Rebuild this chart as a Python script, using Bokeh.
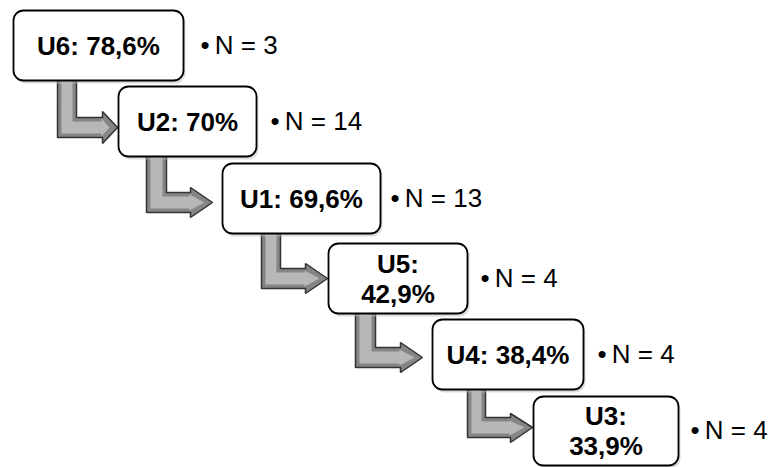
from bokeh.plotting import figure
from bokeh.models import Range1d, BoxAnnotation, ColumnDataSource
from bokeh.core.properties import value
from bokeh.embed import file_html
from bokeh.resources import INLINE

# ---- data ----
units = ["U6", "U2", "U1", "U5", "U4", "U3"]
percent_labels = ["78,6%", "70%", "69,6%", "42,9%", "38,4%", "33,9%"]
wrap = [False, False, False, True, False, True]
n_values = [3, 14, 13, 4, 4, 4]

# ---- layout (pixel units, y downward) ----
boxes = [(13, 183, 10, 80), (118, 256, 86, 156), (222, 380, 163, 233),
         (328, 467, 243, 313), (432, 583, 319, 389), (533, 678, 396, 465)]
n_x = [200, 270, 390, 480, 597, 690]
arrows = [
    dict(a=57, b=76, t=80, bt=117, bb=137, hx=102, ht=111, hb=143, tx=117),
    dict(a=146, b=166, t=156, bt=192, bb=212, hx=190, ht=187, hb=217, tx=212),
    dict(a=261, b=280, t=233, bt=268, bb=288, hx=305, ht=263, hb=293, tx=327),
    dict(a=355, b=375, t=313, bt=347, bb=367, hx=400, ht=342, hb=372, tx=422),
    dict(a=467, b=485, t=389, bt=417, bb=437, hx=510, ht=413, hb=442, tx=532),
]

W, H = 769, 467
p = figure(width=W, height=H, output_backend="svg", toolbar_location=None,
           x_range=Range1d(0, W), y_range=Range1d(H, 0), min_border=0)
p.axis.visible = False
p.grid.visible = False
p.outline_line_color = None
p.background_fill_color = "white"
p.border_fill_color = "white"

# arrows
xs_out, ys_out, xs_in, ys_in, xs_h, ys_h = [], [], [], [], [], []
for ar in arrows:
    mid = (ar["bt"] + ar["bb"]) / 2
    xs_out.append([ar["a"], ar["b"], ar["b"], ar["hx"], ar["hx"], ar["tx"], ar["hx"], ar["hx"], ar["a"]])
    ys_out.append([ar["t"], ar["t"], ar["bt"], ar["bt"], ar["ht"], mid, ar["hb"], ar["bb"], ar["bb"]])
    d = 4
    xs_in.append([ar["a"] + d, ar["b"] - d, ar["b"] - d, ar["hx"], ar["hx"], ar["a"] + d])
    ys_in.append([ar["t"], ar["t"], ar["bt"] + d, ar["bt"] + d, ar["bb"] - d, ar["bb"] - d])
    xs_h.append([ar["hx"] - 1, ar["tx"] - 8, ar["hx"] - 1])
    ys_h.append([ar["ht"] + 7, mid, ar["hb"] - 7])

p.patches(xs_out, ys_out, fill_color="#858585", line_color="#333333", line_width=1.5)
p.patches(xs_in, ys_in, fill_color="#bdbdbd", line_color=None, fill_alpha=0.9)
p.patches(xs_h, ys_h, fill_color="#bdbdbd", line_color=None, fill_alpha=0.9)

# boxes
for (l, r, t, b) in boxes:
    shadow = BoxAnnotation(left=l + 2, right=r + 2, top=t + 3, bottom=b + 3,
                           fill_color="#bbbbbb", fill_alpha=0.5, line_color=None,
                           border_radius=10)
    p.add_layout(shadow)
    box = BoxAnnotation(left=l, right=r, top=t, bottom=b, fill_color="white",
                        fill_alpha=1.0, line_color="black", line_width=1.8,
                        line_alpha=1.0, border_radius=10)
    p.add_layout(box)

labels = [f"{u}:\n{pc}" if w else f"{u}: {pc}" for u, pc, w in zip(units, percent_labels, wrap)]
cx = [(l + r) / 2 for (l, r, t, b) in boxes]
cy = [(t + b) / 2 for (l, r, t, b) in boxes]
src = ColumnDataSource(dict(x=cx, y=cy, text=labels))
p.text(x="x", y="y", text="text", source=src, text_align="center", text_baseline="middle",
       text_font=value("Liberation Sans"), text_font_style="bold", text_font_size="26px",
       text_color="black", text_line_height=1.0, level="overlay")

nsrc = ColumnDataSource(dict(x=n_x, y=[c - 1 for c in cy],
                             text=[f"\u2022\u2009N = {n}" for n in n_values]))
p.text(x="x", y="y", text="text", source=nsrc, text_align="left", text_baseline="middle",
       text_font=value("Liberation Sans"), text_font_size="26px", text_color="black")

open("out.html", "w").write(file_html(p, INLINE))
